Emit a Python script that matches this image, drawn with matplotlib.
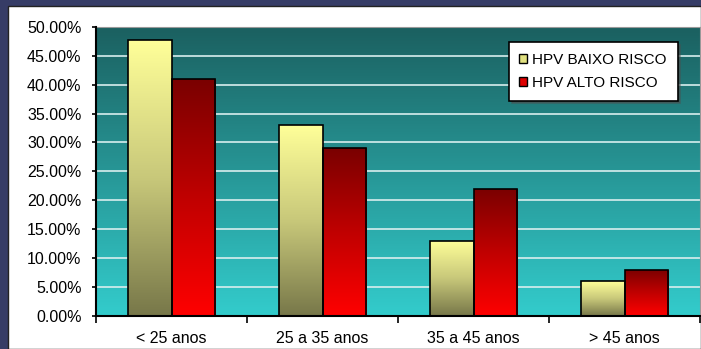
import numpy as np
import matplotlib
matplotlib.use("Agg")
import matplotlib.pyplot as plt
from matplotlib.patches import Rectangle, Patch
from matplotlib.colors import LinearSegmentedColormap

categories = ["< 25 anos", "25 a 35 anos", "35 a 45 anos", "> 45 anos"]
baixo = [47.8, 33.0, 13.0, 6.0]
alto = [41.0, 29.0, 22.0, 8.0]
series_names = ["HPV BAIXO RISCO", "HPV ALTO RISCO"]
yticks = [0, 5, 10, 15, 20, 25, 30, 35, 40, 45, 50]

plt.rcParams['font.family'] = ['Liberation Sans', 'DejaVu Sans']

W, H = 701, 349
fig = plt.figure(figsize=(W/100, H/100), dpi=100)
fig.patch.set_facecolor('#363c66')
fig.patches.append(Rectangle((8/W, 0), 1 - 8/W, (H - 6)/H, transform=fig.transFigure,
                             facecolor='white', edgecolor='#222222', lw=1, zorder=-10))

ax = fig.add_axes([96/W, (H - 315.7)/H, (700 - 96)/W, (315.7 - 27)/H])
ax.set_zorder(1)
ax.set_xlim(-0.5, 3.5)
ax.set_ylim(0, 50)

# background gradient
bg = LinearSegmentedColormap.from_list('bg', ['#33cccc', '#1b6060'])
grad = np.linspace(0, 1, 256).reshape(-1, 1)
ax.imshow(grad, cmap=bg, origin='lower', extent=(-0.5, 3.5, 0, 50), aspect='auto', zorder=0)

for t in yticks[1:]:
    ax.axhline(t, color='#d8eeee', lw=1.2, zorder=1)

w = 1 / 3.5
x = np.arange(len(categories))
cm_y = LinearSegmentedColormap.from_list('y', ['#777749', '#c8c87a', '#ffff99'])
cm_r = LinearSegmentedColormap.from_list('r', ['#ff0000', '#c00000', '#7a0000'])
b1 = ax.bar(x - w/2, baixo, w, facecolor='none', edgecolor='black', lw=1.2, zorder=3)
b2 = ax.bar(x + w/2, alto, w, facecolor='none', edgecolor='black', lw=1.2, zorder=3)
for bars, cm in ((b1, cm_y), (b2, cm_r)):
    for p in bars:
        x0, y0 = p.get_x(), p.get_y()
        im = ax.imshow(grad, cmap=cm, origin='lower',
                       extent=(x0, x0 + p.get_width(), y0, y0 + p.get_height()),
                       aspect='auto', zorder=2)
        im.set_clip_path(p)

ax.set_xlim(-0.5, 3.5)
ax.set_ylim(0, 50)

ax.set_yticks(yticks)
ax.set_yticklabels([f"{v:.2f}%" for v in yticks], fontsize=11.5)
ax.set_xticks(np.arange(-0.5, 3.6, 1))
ax.set_xticklabels([])
ax.set_xticks(x, minor=True)
ax.set_xticklabels(categories, minor=True, fontsize=11.5)
ax.tick_params(axis='x', which='minor', length=0, pad=11)
ax.tick_params(axis='x', which='major', length=5, width=1.2, direction='out')
ax.tick_params(axis='y', length=3, width=1.2, direction='out', pad=7.5)
for s in ('left', 'bottom'):
    ax.spines[s].set_linewidth(1.5)
    ax.spines[s].set_zorder(5)
for s in ('top', 'right'):
    ax.spines[s].set_color('#999999')

handles = [Patch(facecolor='#e0e080', edgecolor='black', label=series_names[0]),
           Patch(facecolor='#dd0000', edgecolor='black', label=series_names[1])]
leg = ax.legend(handles=handles, loc='upper right', bbox_to_anchor=(0.963, 0.948),
                borderaxespad=0,
                fontsize=11, fancybox=False, shadow=True, framealpha=1,
                edgecolor='black', handlelength=0.5, handleheight=0.5,
                handletextpad=0.35, borderpad=0.7, labelspacing=0.6)
leg.get_frame().set_linewidth(1.2)
leg.set_zorder(6)

fig.savefig('out.png', dpi=100, facecolor=fig.get_facecolor())
